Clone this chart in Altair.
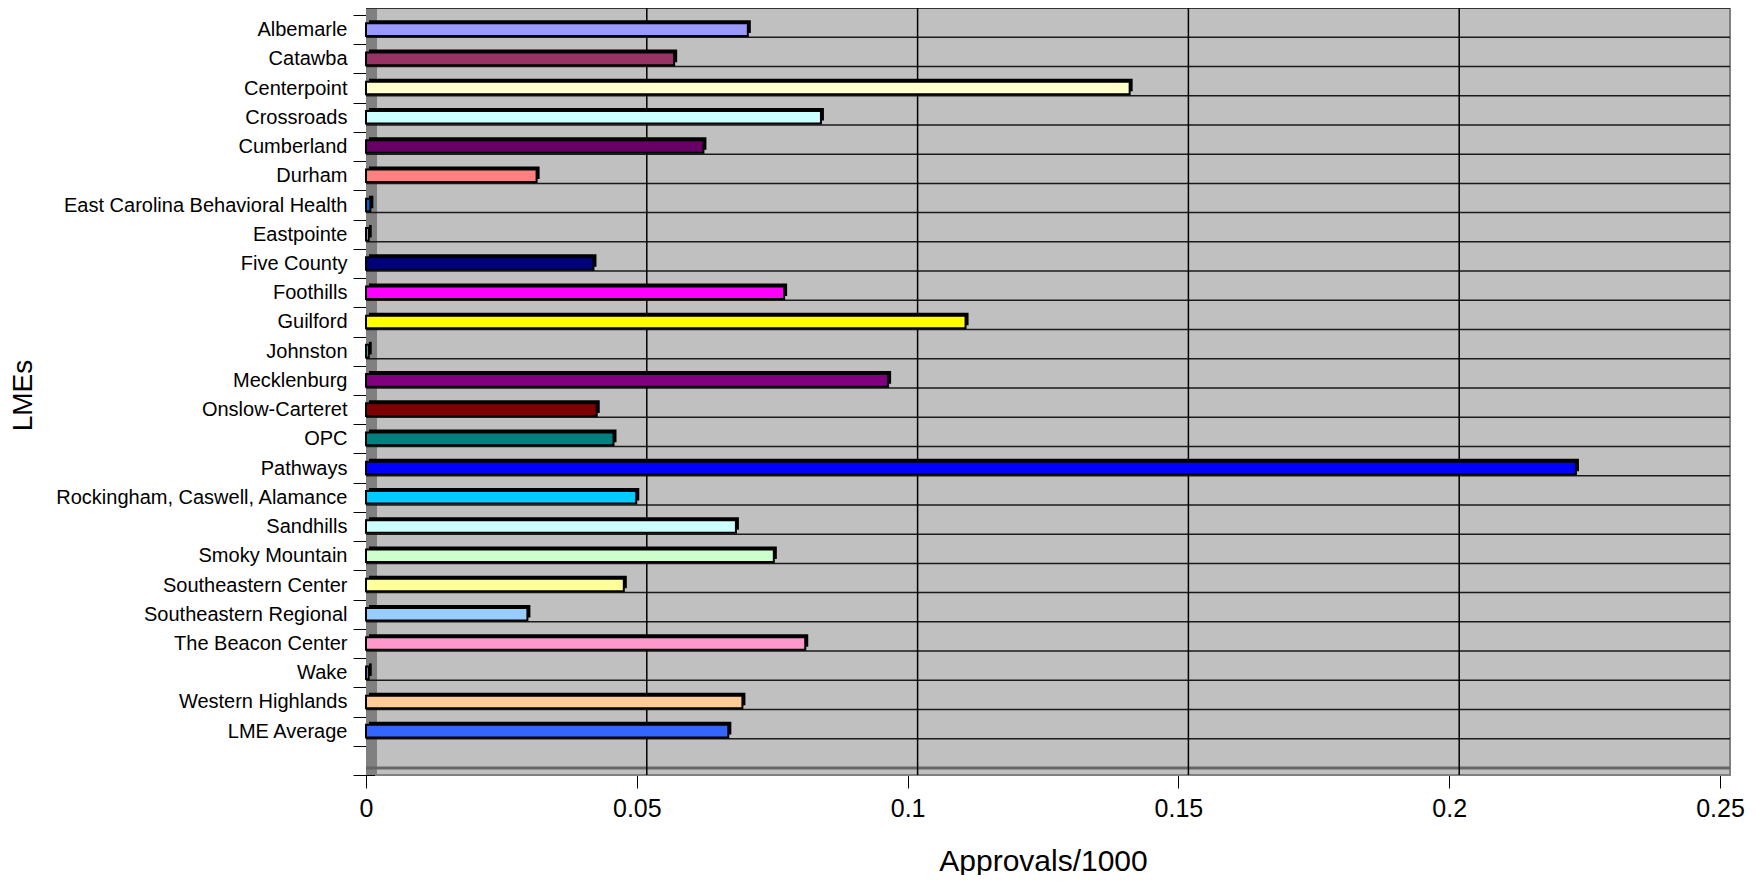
import altair as alt
import pandas as pd

lmes = [
    "Albemarle", "Catawba", "Centerpoint", "Crossroads", "Cumberland", "Durham",
    "East Carolina Behavioral Health", "Eastpointe", "Five County", "Foothills",
    "Guilford", "Johnston", "Mecklenburg", "Onslow-Carteret", "OPC", "Pathways",
    "Rockingham, Caswell, Alamance", "Sandhills", "Smoky Mountain",
    "Southeastern Center", "Southeastern Regional", "The Beacon Center", "Wake",
    "Western Highlands", "LME Average",
]
approvals = [
    0.0705, 0.0569, 0.1410, 0.0840, 0.0623, 0.0315,
    0.0008, 0.0005, 0.0420, 0.0772,
    0.1107, 0.0005, 0.0964, 0.0426, 0.0457, 0.2234,
    0.0499, 0.0683, 0.0753,
    0.0476, 0.0298, 0.0811, 0.0005,
    0.0695, 0.0669,
]
colors = [
    "#9999FF", "#993366", "#FFFFCC", "#CCFFFF", "#660066", "#FF8080",
    "#0066CC", "#CCCCFF", "#000080", "#FF00FF",
    "#FFFF00", "#00FFFF", "#800080", "#800000", "#008080", "#0000FF",
    "#00CCFF", "#CCFFFF", "#CCFFCC",
    "#FFFF99", "#99CCFF", "#FF99CC", "#CC99FF",
    "#FFCC99", "#3366FF",
]
x_ticks = [0, 0.05, 0.1, 0.15, 0.2, 0.25]
grid_x = [0.05, 0.1, 0.15, 0.2]

EMPTY = " "
slots = lmes + [EMPTY]

df = pd.DataFrame({"lme": lmes, "value": approvals})
slot_df = pd.DataFrame({"lme": slots})
last_df = pd.DataFrame({"lme": [EMPTY]})
grid_df = pd.DataFrame({"value": grid_x})

W, H = 1354, 760

yscale = alt.Scale(domain=slots, paddingInner=0, paddingOuter=0)
xscale = alt.Scale(domain=[0, 0.25], nice=False)

y_axis = alt.Axis(
    title="LMEs", labelFontSize=20, labelColor="black", labelPadding=6,
    tickBand="extent", tickSize=13, tickColor="black", domainColor="black",
    grid=False, titleFontSize=28, titleFontWeight="normal", titleColor="black",
    titleX=-343, titleY=380, titleAlign="center", titleBaseline="middle",
    titleAngle=270, labelFont="Liberation Sans", titleFont="Liberation Sans",
    labelLimit=400,
)
x_axis = alt.Axis(
    title="Approvals/1000", values=x_ticks, format="~g", labelFontSize=25,
    labelColor="black", tickSize=13, tickColor="black", domainColor="black",
    labelPadding=8, labelFlush=False, grid=False, titleFontSize=30,
    titleFontWeight="normal", titleColor="black", titleY=86,
    titleBaseline="middle", labelFont="Liberation Sans",
    titleFont="Liberation Sans",
)


def Y(**kw):
    return alt.Y("lme:N", scale=yscale, sort=slots, axis=y_axis, title="LMEs", **kw)


def X(field="value"):
    return alt.X(f"{field}:Q", scale=xscale, axis=x_axis, title="Approvals/1000")


back_wall = alt.Chart(last_df).mark_rect(
    color="#C0C0C0", stroke="#808080", strokeWidth=2,
    xOffset=10, x2Offset=10, yOffset=-7, y2Offset=-7,
).encode(
    x=alt.datum(0, scale=xscale),
    x2=alt.datum(0.25),
)

wall = alt.Chart(last_df).mark_rect(color="#808080", x2Offset=10, yOffset=-7).encode(
    x=alt.datum(0, scale=xscale),
    x2=alt.datum(0),
)

hgrid = alt.Chart(slot_df).mark_rule(color="#1a1a1a", strokeWidth=1.5, xOffset=10, yOffset=-7).encode(
    y=Y(bandPosition=0),
)
hgrid_last = alt.Chart(last_df).mark_rule(color="#666666", strokeWidth=3, xOffset=10, yOffset=-7).encode(
    y=Y(bandPosition=1),
)
vgrid = alt.Chart(grid_df).mark_rule(color="black", strokeWidth=1.5, xOffset=10, yOffset=-7).encode(
    x=X(),
)

bar_height = alt.RelativeBandSize(0.43)

shadow = alt.Chart(df).mark_bar(color="black", height=bar_height, xOffset=3, yOffset=-3).encode(
    y=Y(),
    x=X(),
)
bars = alt.Chart(df).mark_bar(stroke="black", strokeWidth=2, height=bar_height).encode(
    y=Y(),
    x=X(),
    color=alt.Color("lme:N", scale=alt.Scale(domain=lmes, range=colors), legend=None),
)

chart = alt.layer(back_wall, wall, hgrid, hgrid_last, vgrid, shadow, bars).properties(
    width=W, height=H,
    autosize=alt.AutoSizeParams(type="none"),
    padding={"left": 358, "top": 7, "right": 30, "bottom": 100},
    background="white",
).configure_view(fill="#C0C0C0", stroke=None)

chart.save("out.html", embed_options={"renderer": "svg", "actions": False})
